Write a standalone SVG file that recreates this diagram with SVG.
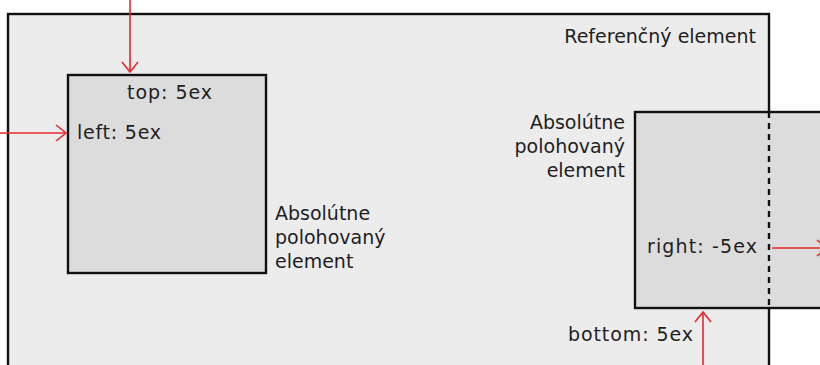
<svg xmlns="http://www.w3.org/2000/svg" width="820" height="365" viewBox="0 0 820 365">
  <style>
    .frame { fill: #ececec; stroke: #111; stroke-width: 2.4; }
    .box { fill: #dcdcdc; stroke: #111; stroke-width: 2.4; }
    .lbl { font-family: "DejaVu Sans", Verdana, sans-serif; font-size: 19px; fill: #1e1e1e; }
    .end { text-anchor: end; }
    .mid { text-anchor: middle; }
    .arrow { stroke: #e8282e; stroke-width: 1.6; fill: none; }
  </style>
  <defs>
    <marker id="head" viewBox="-11 -9 12 18" markerWidth="12" markerHeight="18" refX="0" refY="0" orient="auto" markerUnits="userSpaceOnUse">
      <path d="M -10 -8 L 0 0 L -10 8" fill="none" stroke="#e8282e" stroke-width="1.6"/>
    </marker>
  </defs>

  <rect width="820" height="365" fill="#ffffff"/>

  <!-- containing block -->
  <g id="reference">
    <rect class="frame" x="8" y="14" width="761" height="370"/>
    <text class="lbl end" x="756" y="43">Referenčný element</text>
  </g>

  <!-- box positioned with top/left -->
  <g id="box-left">
    <rect class="box" x="68" y="75" width="198" height="198"/>
    <text class="lbl" x="127" y="99" textLength="85" lengthAdjust="spacing">top: 5ex</text>
    <text class="lbl" x="77" y="139" textLength="84" lengthAdjust="spacing">left: 5ex</text>
    <text class="lbl" x="275" y="220">Absolútne</text>
    <text class="lbl" x="275" y="244">polohovaný</text>
    <text class="lbl" x="275" y="268">element</text>
  </g>

  <!-- box positioned with right/bottom -->
  <g id="box-right">
    <rect class="box" x="635" y="112" width="200" height="196"/>
    <line x1="769" y1="112" x2="769" y2="308" stroke="#111" stroke-width="2.4" stroke-dasharray="6 5"/>
    <text class="lbl end" x="625" y="129">Absolútne</text>
    <text class="lbl end" x="625" y="153">polohovaný</text>
    <text class="lbl end" x="625" y="177">element</text>
    <text class="lbl" x="647" y="253" textLength="110" lengthAdjust="spacing">right: -5ex</text>
    <text class="lbl" x="568" y="341" textLength="125" lengthAdjust="spacing">bottom: 5ex</text>
  </g>

  <!-- offset arrows -->
  <g id="connectors">
    <line class="arrow" x1="130" y1="0" x2="130" y2="72" marker-end="url(#head)"/>
    <line class="arrow" x1="0" y1="133" x2="66" y2="133" marker-end="url(#head)"/>
    <line class="arrow" x1="772" y1="248" x2="827" y2="248" marker-end="url(#head)"/>
    <line class="arrow" x1="703" y1="365" x2="703" y2="312" marker-end="url(#head)"/>
  </g>
</svg>
